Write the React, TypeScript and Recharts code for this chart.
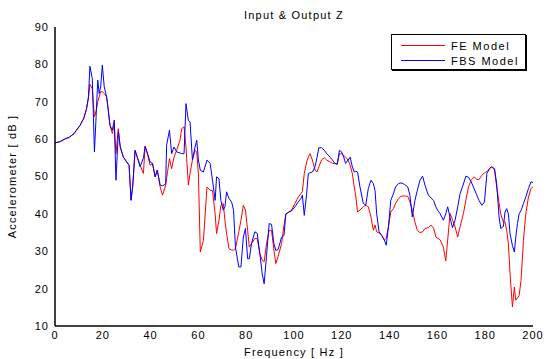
import * as React from "react";
import { LineChart, Line, XAxis, YAxis, Label } from "recharts";

const freq = [
  0, 2, 4, 6, 8, 9, 10.5, 12, 13.2, 14, 14.6, 15.6, 16.5, 17.2, 17.9, 18.5, 19.1, 19.8, 20.6, 21.6,
  22.3, 23, 24, 24.8, 25.5, 26.5, 27.3, 28.6, 30, 31, 31.8, 32.5, 33.5,
  34.5, 35.6, 37, 37.7, 38.8, 39.8, 40.8, 41.9, 42.8, 44, 45, 46.3, 46.7, 47.9, 48.8, 49.8, 50.9,
  52.3, 53, 54, 54.8, 55.8, 56.5, 57.5, 58.6, 59.3, 60, 60.8, 62.1, 63.6, 64.9, 65.9,
  67, 67.6, 68.6, 69.4, 70.4, 71.1, 71.8, 72.8, 73.9, 74.7, 75.5, 76.9, 77.8, 78.8, 79.7, 80.6,
  81.3, 82.2, 83.6, 84.6, 85.7, 86.7, 87.5, 88.5, 89.6, 90.6, 91.6, 92.4, 93.4, 94.8, 95.8, 96.6, 97.9, 99,
  100.4, 101.8, 102.9, 103.5, 104.3, 105.3, 106, 106.7, 107.7, 108.8, 109.6, 110.4, 111.5, 112.7,
  113.7, 115.1, 116.1, 117.1, 118.1, 119, 119.9, 120.8, 121.6, 122.6, 123.5, 124.4, 125.2, 125.9,
  126.6, 127.6, 129, 130, 131.1, 132.2, 133.2,
  133.9, 134.6, 135.6, 136.7, 137.8, 138.6, 139.5, 140.5, 141.6, 142.5, 143.7, 144.8, 146.2, 147.6,
  148.5, 149.5, 150.6, 151.6, 152.7, 153.8, 154.8, 156.2, 157.3, 158.4, 159.4, 160.3, 161.1, 162.5,
  163.5, 164.3, 165.3, 166.3,
  167.4, 168.5, 169.5, 170.9, 171.9, 173, 174.1, 175.4, 176.5, 177.4, 178.6, 179.7, 180.7, 181.8,
  182.7, 183.9, 184.8, 185.8, 186.5, 187.6, 188.3, 189, 189.7, 190.4, 191.4, 192.2, 192.8, 193.5,
  194.2, 195, 196, 197, 198.1, 199.2, 200,
];

const feModel = [
  59, 59.3, 60, 60.5, 61.5, 62.4, 63.7, 65.5, 68, 71, 74.7, 73.5, 66, 67.5, 70, 71.3, 72.7, 72.7, 72.2, 71.3,
  67.7, 63.7, 61.5, 64, 56.1, 62.8, 57.9, 55.2, 53.9, 53, 43.8, 47.2, 57,
  55, 53, 50.8, 58.1, 55.7, 53, 53.5, 49.9, 51.7, 47.2, 45, 47.7, 49.5, 54.8, 52.1, 55.2, 57,
  59.7, 62.8, 63.3, 57.9, 47.7, 50.8, 54.4, 57, 56.6, 50.8, 29.8, 32.9, 47.2, 46.3, 46.3,
  40, 34.7, 38.3, 42.3, 42.8, 38.3, 34.7, 30.7, 30.3, 30.3, 30.7, 35.2, 38.3, 42.3, 41, 35.6,
  31.1, 32, 33.4, 33.4, 29.4, 27.6, 27.2, 32, 35.6, 35.6, 30.3, 26.7, 28.7, 32, 36.9, 40, 40.5, 41,
  42.8, 44.5, 45.4, 46, 50.8, 53.9, 55.2, 56.1, 54.4, 51.7, 51.2, 52.6, 54.4, 55,
  54.4, 53.9, 53.5, 53.5, 53.3, 56.1, 56.1, 55.6, 55.2, 54.4, 53, 50.8, 47.2, 44.5,
  40.5, 41, 41.9, 42.3, 41.9, 39.2, 35.6,
  37, 35.2, 34.9, 34.3, 33, 33.5, 36.5, 40.5, 41.4, 42.8, 44.1, 44.7, 44.8, 44.7,
  43.2, 41, 37.8, 35.6, 35, 35.2, 36.1, 36.3, 37, 36.2, 33.8, 33.4, 33.1, 31.1,
  27.4, 33, 40.1, 38.5,
  36.5, 33.8, 36.6, 40.1, 43.6, 47.2, 49, 49.9, 49.2, 49.2, 50.3, 51, 51.3, 52.1,
  52.6, 51.7, 47.2, 43, 40, 37.8, 37.8, 35.6, 32, 24, 15.1, 20.4, 16.9, 17.5,
  18.2, 22.2, 32.9, 40.1, 44.5, 46.8, 47.2,
];

const fbsModel = [
  59, 59.3, 60, 60.5, 61.5, 62.4, 63.7, 65.5, 68.2, 71.3, 79.5, 76.2, 56.6, 66, 75.8, 72.2, 74, 79.8, 74, 71.3,
  67.7, 63.7, 62.4, 65.1, 49, 62, 57.9, 55.2, 53.9, 53, 43.6, 47.2, 57,
  55, 52.6, 55, 58.1, 56, 53.9, 53.5, 49.9, 51.7, 47.7, 47.5, 48, 58.4, 62.4, 56.1, 57.9, 56.6,
  56.3, 56.1, 56.1, 69.5, 65, 64.6, 54.4, 57.9, 59.7, 54.4, 51.7, 51.2, 54.4, 53.5, 49,
  43.6, 49.9, 49.4, 43.6, 41, 41.9, 45.9, 44.1, 43.2, 41, 31.1, 25.8, 25.8, 33.8, 36.1, 28,
  28, 32, 35.2, 34.8, 29.4, 24, 21.3, 28.7, 37.4, 37.2, 32, 30.2, 30.5, 33.8, 34.2, 40, 40.5, 40.8,
  41.9, 43.2, 44.1, 45, 39.6, 45.4, 50.8, 51, 51.2, 52.6, 55, 57.7, 57.7, 57,
  56.1, 55.2, 54.4, 53.5, 53.3, 57, 56.6, 55.2, 53.5, 54.4, 55.2, 52.6, 51.2, 51.4,
  51.2, 47.2, 42.8, 42.3, 46.8, 49, 48.1,
  46.3, 40, 35.2, 34.2, 33, 31.6, 36.5, 43.6, 45.4, 47.2, 48.1, 48.3, 47.9, 47.2,
  45, 39.2, 43.6, 46.3, 49, 50.1, 47.7, 45, 44.3, 43.6, 41.8, 40.8, 40.1, 38.3,
  40, 41.9, 39, 36.3,
  38.3, 41.9, 45.4, 48, 50.1, 49.8, 48.6, 46.7, 45, 43.6, 42.3, 43.2, 50.8, 52.1,
  52.6, 52.1, 48.1, 39.2, 36.1, 36.6, 40.5, 41.4, 40, 34.7, 31.5, 29.8, 33.8, 37.4,
  40, 40.9, 42.8, 44.5, 46.8, 48.6, 48.3,
];

const xTicks = [0, 20, 40, 60, 80, 100, 120, 140, 160, 180, 200];
const yTicks = [10, 20, 30, 40, 50, 60, 70, 80, 90];

const data = freq.map((f, i) => ({ f, fe: feModel[i], fbs: fbsModel[i] }));

const font = "'Liberation Sans', Arial, sans-serif";
const tickStyle = { fontSize: 11, fill: "#000", fontFamily: font, letterSpacing: 1 };
const noLabel = () => <g />;

const series = [
  { name: "FE Model", color: "#ff0000" },
  { name: "FBS Model", color: "#0000ff" },
];

const LegendBox = () => (
  <div
    style={{
      position: "absolute",
      left: 391,
      top: 34,
      border: "1px solid #000",
      boxShadow: "1px 1px 0 #000",
      background: "#fff",
      width: 135,
      height: 36,
      fontFamily: font,
      fontSize: 11,
      letterSpacing: 1.5,
      color: "#000",
      boxSizing: "border-box",
      padding: "3px 0 0 9px",
      zIndex: 2,
    }}
  >
    {series.map((item) => (
      <div key={item.name} style={{ display: "flex", alignItems: "center", height: 15 }}>
        <div style={{ width: 44, height: 0, borderTop: `1px solid ${item.color}`, marginRight: 6 }} />
        <span>{item.name}</span>
      </div>
    ))}
  </div>
);

export default function App() {
  return (
    <div style={{ position: "absolute", left: 0, top: 0, width: 553, height: 359, background: "#fff" }}>
      <div
        style={{
          position: "absolute",
          left: 55,
          width: 478,
          top: 9,
          textAlign: "center",
          fontFamily: font,
          fontSize: 11,
          letterSpacing: 1.2,
          color: "#000",
        }}
      >
        Input &amp; Output Z
      </div>
      <LineChart width={553} height={359} data={data} margin={{ top: 27, right: 20, left: 0, bottom: 0 }}>
        <XAxis
          xAxisId="main"
          dataKey="f"
          type="number"
          domain={[0, 200]}
          ticks={xTicks}
          allowDataOverflow
          height={33}
          tickSize={0}
          tickMargin={5}
          tickLine={false}
          axisLine={{ stroke: "#000", strokeWidth: 1.5 }}
          tick={tickStyle}
        >
          <Label
            value="Frequency [ Hz ]"
            position="insideBottom"
            offset={3}
            style={{ fontSize: 11, fill: "#000", fontFamily: font, letterSpacing: 1.2 }}
          />
        </XAxis>
        <XAxis
          xAxisId="bottomTicks"
          type="number"
          domain={[0, 200]}
          ticks={xTicks}
          allowDataOverflow
          mirror
          height={0}
          tick={noLabel}
          tickSize={5}
          axisLine={false}
          tickLine={{ stroke: "#000" }}
        />
        <XAxis
          xAxisId="top"
          orientation="top"
          type="number"
          domain={[0, 200]}
          ticks={xTicks}
          allowDataOverflow
          mirror
          height={0}
          tick={noLabel}
          tickSize={5}
          axisLine={{ stroke: "#000", strokeWidth: 1.5 }}
          tickLine={{ stroke: "#000" }}
        />
        <YAxis
          yAxisId="main"
          type="number"
          domain={[10, 90]}
          ticks={yTicks}
          allowDataOverflow
          width={55}
          tickSize={0}
          tickMargin={6}
          tickLine={false}
          axisLine={{ stroke: "#000", strokeWidth: 1.5 }}
          tick={tickStyle}
        >
          <Label
            value="Accelerometer [ dB ]"
            angle={-90}
            position="insideLeft"
            offset={12}
            style={{ textAnchor: "middle", fontSize: 11, fill: "#000", fontFamily: font, letterSpacing: 1.2 }}
          />
        </YAxis>
        <YAxis
          yAxisId="leftTicks"
          type="number"
          domain={[10, 90]}
          ticks={yTicks}
          allowDataOverflow
          mirror
          width={0}
          tick={noLabel}
          tickSize={5}
          axisLine={false}
          tickLine={{ stroke: "#000" }}
        />
        <YAxis
          yAxisId="right"
          orientation="right"
          type="number"
          domain={[10, 90]}
          ticks={yTicks}
          allowDataOverflow
          mirror
          width={0}
          tick={noLabel}
          tickSize={5}
          axisLine={{ stroke: "#000", strokeWidth: 1.5 }}
          tickLine={{ stroke: "#000" }}
        />
        <Line
          xAxisId="main"
          yAxisId="main"
          type="linear"
          dataKey="fe"
          name="FE Model"
          stroke="#ff0000"
          strokeWidth={1}
          dot={false}
          isAnimationActive={false}
        />
        <Line
          xAxisId="main"
          yAxisId="main"
          type="linear"
          dataKey="fbs"
          name="FBS Model"
          stroke="#0000ff"
          strokeWidth={1}
          dot={false}
          isAnimationActive={false}
        />
      </LineChart>
      <LegendBox />
    </div>
  );
}
